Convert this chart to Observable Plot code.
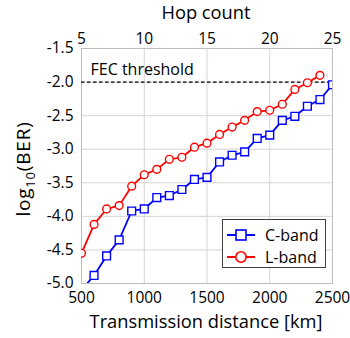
<!DOCTYPE html>
<html>
<head>
<meta charset="utf-8">
<script src="https://cdn.jsdelivr.net/npm/d3@7"></script>
<script src="https://cdn.jsdelivr.net/npm/@observablehq/plot@0.6"></script>
<style>
  html, body { margin: 0; padding: 0; background: #fff; }
  #wrap { position: relative; width: 350px; height: 338px; font-family: "Open Sans", sans-serif; }
  #legend { position: absolute; left: 222px; top: 219px; width: 102px; height: 47px;
    border: 1px solid #404040; background: #fff; font-size: 16px; color: #000; }
  #legend .row { position: absolute; left: 3px; height: 22px; display: flex; align-items: center; }
  #legend svg { display: block; }
  #legend span { margin-left: 9px; }
</style>
</head>
<body>
<div id="wrap"></div>
<script>
// Data
const distance = [500, 600, 700, 800, 900, 1000, 1100, 1200, 1300, 1400, 1500, 1600, 1700, 1800, 1900, 2000, 2100, 2200, 2300, 2400, 2500];
const cBand = [-5.1, -4.88, -4.59, -4.35, -3.92, -3.89, -3.72, -3.69, -3.60, -3.45, -3.42, -3.19, -3.09, -3.04, -2.84, -2.79, -2.57, -2.51, -2.36, -2.26, -2.04];
const lDistance = [500, 600, 700, 800, 900, 1000, 1100, 1200, 1300, 1400, 1500, 1600, 1700, 1800, 1900, 2000, 2100, 2200, 2300, 2400];
const lBand = [-4.55, -4.12, -3.89, -3.84, -3.55, -3.38, -3.30, -3.15, -3.12, -2.97, -2.91, -2.78, -2.67, -2.57, -2.44, -2.42, -2.33, -2.11, -2.01, -1.90];
const xTicks = [500, 1000, 1500, 2000, 2500];
const hopTicks = [5, 10, 15, 20, 25];
const yTicks = [-5.0, -4.5, -4.0, -3.5, -3.0, -2.5, -2.0, -1.5];
const fecThreshold = -2.0;
const fecLabel = "FEC threshold";
const seriesNames = ["C-band", "L-band"];
const colors = ["#0000ff", "#ff0000"];
const xTitle = "Transmission distance [km]";
const topTitle = "Hop count";

const cData = distance.map((d, i) => ({x: d, y: cBand[i]}));
const lData = lDistance.map((d, i) => ({x: d, y: lBand[i]}));
const kmPerHop = 100;

const chart = Plot.plot({
  width: 350,
  height: 338,
  marginLeft: 81,
  marginRight: 18,
  marginTop: 48,
  marginBottom: 55,
  style: {fontFamily: "Open Sans, sans-serif", fontSize: "15px", color: "#000", background: "#fff"},
  x: {domain: [500, 2500]},
  y: {domain: [-5.0, -1.5]},
  marks: [
    Plot.gridX(xTicks, {stroke: "#d4d4d4", strokeOpacity: 1, strokeWidth: 1}),
    Plot.gridY(yTicks, {stroke: "#d4d4d4", strokeOpacity: 1, strokeWidth: 1}),
    Plot.frame({stroke: "#bdbdbd"}),
    Plot.ruleY([fecThreshold], {stroke: "#000", strokeWidth: 1.3, strokeDasharray: "3.5,2.5"}),
    Plot.text([fecLabel], {x: xTicks[0], y: fecThreshold, text: d => d, textAnchor: "start", dx: 9, dy: -12, fontSize: 16, fill: "#000"}),
    Plot.line(cData, {x: "x", y: "y", stroke: colors[0], strokeWidth: 1.8, clip: true}),
    Plot.dot(cData, {x: "x", y: "y", symbol: "square", r: 4.4, stroke: colors[0], strokeWidth: 1.4, fill: "#fff", clip: true}),
    Plot.line(lData, {x: "x", y: "y", stroke: colors[1], strokeWidth: 1.8, clip: true}),
    Plot.dot(lData, {x: "x", y: "y", symbol: "circle", r: 3.9, stroke: colors[1], strokeWidth: 1.4, fill: "#fff", clip: true}),
    Plot.axisY({ticks: yTicks, tickFormat: d => d.toFixed(1), tickSize: 0, tickPadding: 8, label: null, fontSize: 15.5}),
    Plot.axisX({ticks: xTicks, tickFormat: d => String(d), tickSize: 0, tickPadding: 8, fontSize: 15.5, label: null}),
    Plot.axisX({anchor: "top", ticks: hopTicks.map(h => h * kmPerHop), tickFormat: d => String(d / kmPerHop), tickSize: 0, tickPadding: 5, fontSize: 15.5, label: null})
  ]
});

const svg = d3.select(chart);
// Axis titles
svg.append("text").attr("x", 206).attr("y", 19).attr("text-anchor", "middle")
  .style("font-size", "18.3px").attr("fill", "#000").text(topTitle);
svg.append("text").attr("x", 206).attr("y", 328).attr("text-anchor", "middle")
  .style("font-size", "18.3px").attr("fill", "#000").text(xTitle);

// y-axis title with subscript
const yt = svg.append("text")
  .attr("transform", "translate(30,169) rotate(-90)")
  .attr("text-anchor", "middle")
  .style("font-size", "19px")
  .style("letter-spacing", "0.8px")
  .attr("fill", "#000");
yt.append("tspan").text("log");
yt.append("tspan").attr("dy", 5).style("font-size", "13px").text("10");
yt.append("tspan").attr("dy", -5).text("(BER)");

const wrap = document.getElementById("wrap");
wrap.appendChild(chart);

// Legend
const legend = document.createElement("div");
legend.id = "legend";
const symbols = ["square", "circle"];
seriesNames.forEach((name, i) => {
  const row = document.createElement("div");
  row.className = "row";
  row.style.top = (4 + i * 22) + "px";
  const s = d3.create("svg").attr("width", 30).attr("height", 14);
  s.append("line").attr("x1", 1).attr("x2", 29).attr("y1", 7).attr("y2", 7).attr("stroke", colors[i]).attr("stroke-width", 2);
  if (symbols[i] === "square") {
    s.append("rect").attr("x", 10).attr("y", 2).attr("width", 10).attr("height", 10).attr("fill", "#fff").attr("stroke", colors[i]).attr("stroke-width", 1.6);
  } else {
    s.append("circle").attr("cx", 15).attr("cy", 7).attr("r", 5.2).attr("fill", "#fff").attr("stroke", colors[i]).attr("stroke-width", 1.6);
  }
  row.appendChild(s.node());
  const t = document.createElement("span");
  t.textContent = name;
  row.appendChild(t);
  legend.appendChild(row);
});
wrap.appendChild(legend);
</script>
</body>
</html>
